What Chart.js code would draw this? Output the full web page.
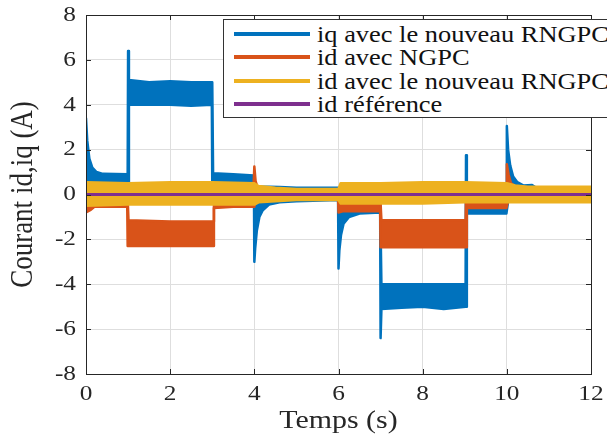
<!DOCTYPE html>
<html>
<head>
<meta charset="utf-8">
<script src="https://cdn.jsdelivr.net/npm/chart.js@4/dist/chart.umd.min.js"></script>
<style>
  html, body { margin: 0; padding: 0; background: #fff; overflow: hidden; }
  #wrap { position: relative; width: 607px; height: 437px; overflow: hidden; }
  #legend {
    position: absolute; left: 223px; top: 19px; width: 420px; height: 99px;
    background: #fff; border: 1px solid #333; box-sizing: border-box;
    font-family: "Liberation Serif", "Times New Roman", serif; font-size: 24px; color: #111;
  }
  #legend .row { position: absolute; left: 0; height: 24px; white-space: nowrap; }
  #legend .swatch { position: absolute; left: 10px; top: 10px; width: 76px; height: 4px; }
  #legend .label { position: absolute; left: 93px; top: 0; line-height: 24px; transform: scaleX(1.1); transform-origin: 0 50%; }
</style>
</head>
<body>
<div id="wrap">
  <canvas id="chart" width="607" height="437"></canvas>
  <div id="legend"></div>
</div>
<script>
// tick labels
const xTicks = [0, 2, 4, 6, 8, 10, 12];
const yTicks = [-8, -6, -4, -2, 0, 2, 4, 6, 8];

// iq avec le nouveau RNGPC (blue) - upper / lower envelope of the noisy band
const iqTime = [0, 0.03, 0.08, 0.15, 0.25, 0.4, 0.99, 1.0, 1.02, 1.5, 2.0, 2.5, 2.99, 3.0, 3.02, 3.5, 3.99,
  4.0, 4.02, 4.06, 4.12, 4.2, 4.35, 4.6, 5.0, 5.99, 6.0, 6.02, 6.06, 6.12, 6.25, 6.5, 6.99,
  7.0, 7.02, 7.5, 8.0, 8.5, 9.02, 9.03, 9.05, 9.5, 9.99, 10.0, 10.03, 10.08, 10.15, 10.25, 10.4, 10.6, 10.7, 11, 12];
const iqHigh = [3.4, 2.4, 1.6, 1.2, 1.0, 0.92, 0.9, 6.4, 5.1, 5.0, 5.05, 5.0, 5.0, 5.0, 0.95, 0.9, 0.85,
  0.85, 0.4, 0.35, 0.35, 0.35, 0.35, 0.33, 0.3, 0.3, 0.3, -0.2, -0.2, -0.2, -0.2, -0.2, -0.2,
  -0.2, -4.0, -4.0, -4.0, -4.0, -4.0, 1.75, -0.5, -0.5, -0.5, 3.05, 2.0, 1.3, 0.8, 0.55, 0.4, 0.42, 0.3, 0.28, 0.25];
const iqLow = [-0.2, 0.3, 0.4, 0.5, 0.55, 0.55, 0.55, 0.55, 4.0, 4.0, 4.0, 3.95, 4.0, 0.55, 0.55, 0.55, 0.55,
  -3.0, -2.4, -1.6, -1.0, -0.7, -0.45, -0.35, -0.3, -0.25, -3.3, -2.5, -1.8, -1.3, -1.0, -0.85, -0.8,
  -6.4, -5.1, -5.05, -5.0, -5.1, -5.0, -5.0, -0.85, -0.85, -0.85, -0.85, -0.3, -0.2, -0.2, -0.2, -0.2, -0.2, -0.2, -0.2, -0.2];

// id avec NGPC (orange)
const ngpcTime = [0, 0.1, 0.2, 0.98, 0.99, 1.01, 2.0, 3.03, 3.04, 3.5, 3.98, 4.0, 4.03, 4.08, 5.0, 5.99,
  6.0, 6.1, 6.5, 6.99, 7.0, 7.02, 9.02, 9.03, 9.05, 9.99, 10.0, 10.04, 10.1, 10.25, 12];
const ngpcHigh = [0.3, 0.3, 0.3, 0.3, 0.3, -1.15, -1.2, -1.2, 0.3, 0.3, 0.3, 1.25, 0.6, 0.3, 0.2, 0.2,
  0.2, 0.0, 0.0, 0.0, 0.0, -1.15, -1.15, 0.0, 0.0, 0.0, 1.35, 0.9, 0.5, 0.3, 0.2];
const ngpcLow = [-0.8, -0.7, -0.55, -0.55, -2.3, -2.3, -2.3, -2.3, -0.6, -0.55, -0.55, -0.55, -0.3, -0.25, -0.2, -0.2,
  -0.8, -0.75, -0.75, -0.75, -2.35, -2.35, -2.35, -2.35, -0.6, -0.6, -0.6, -0.2, -0.2, -0.2, -0.2];

// id avec le nouveau RNGPC (yellow)
const idTime = [0, 1, 2, 3, 4, 4.1, 4.5, 5, 6, 6.05, 7, 8, 9, 10, 10.2, 10.5, 12];
const idHigh = [0.55, 0.5, 0.55, 0.55, 0.5, 0.38, 0.3, 0.25, 0.25, 0.5, 0.5, 0.55, 0.55, 0.5, 0.4, 0.35, 0.35];
const idLow = [-0.5, -0.45, -0.45, -0.45, -0.45, -0.35, -0.3, -0.25, -0.25, -0.4, -0.4, -0.4, -0.35, -0.35, -0.35, -0.35, -0.35];

// id référence (purple)
const refTime = [0, 12];
const refValue = [0, 0];

const seriesNames = ['iq avec le nouveau RNGPC', 'id avec NGPC', 'id avec le nouveau RNGPC', 'id référence'];
const seriesColors = ['#0072BD', '#D95319', '#EDB120', '#7E2F8E'];

function pts(t, v) {
  return t.map((x, i) => ({ x: x, y: v[i] }));
}

function band(t, hi, lo, color, order) {
  return [
    { data: pts(t, hi), borderColor: color, backgroundColor: color, borderWidth: 2.5, pointRadius: 0, fill: false, order: order, borderJoinStyle: 'round', borderCapStyle: 'round' },
    { data: pts(t, lo), borderColor: color, backgroundColor: color, borderWidth: 2.5, pointRadius: 0, fill: '-1', order: order, borderJoinStyle: 'round', borderCapStyle: 'round' }
  ];
}

const datasets = []
  .concat(band(iqTime, iqHigh, iqLow, seriesColors[0], 4))
  .concat(band(ngpcTime, ngpcHigh, ngpcLow, seriesColors[1], 3))
  .concat(band(idTime, idHigh, idLow, seriesColors[2], 2));
datasets.push({ data: pts(refTime, refValue), borderColor: seriesColors[3], borderWidth: 3, pointRadius: 0, fill: false, order: 1 });

// the original figure is a bit stretched sideways, so widen every text a little
const canvas = document.getElementById('chart');
const ctx = canvas.getContext('2d');
const textStretch = 1.15;
const plainFillText = ctx.fillText;
ctx.fillText = function (text, x, y) {
  const m = this.getTransform();
  const p = m.transformPoint(new DOMPoint(x, y));
  this.save();
  this.setTransform(new DOMMatrix().translateSelf(p.x, p.y).scaleSelf(textStretch, 1).translateSelf(-p.x, -p.y).multiplySelf(m));
  plainFillText.call(this, text, x, y);
  this.restore();
};

// MATLAB style box with inward ticks
const boxPlugin = {
  id: 'box',
  afterDraw(chart) {
    const { ctx, chartArea: a, scales } = chart;
    ctx.save();
    ctx.strokeStyle = '#262626';
    ctx.lineWidth = 1;
    ctx.beginPath();
    xTicks.forEach(v => {
      const px = Math.round(scales.x.getPixelForValue(v)) + 0.5;
      ctx.moveTo(px, a.bottom); ctx.lineTo(px, a.bottom - 5);
      ctx.moveTo(px, a.top); ctx.lineTo(px, a.top + 5);
    });
    yTicks.forEach(v => {
      const py = Math.round(scales.y.getPixelForValue(v)) + 0.5;
      ctx.moveTo(a.left, py); ctx.lineTo(a.left + 5, py);
      ctx.moveTo(a.right, py); ctx.lineTo(a.right - 5, py);
    });
    ctx.stroke();
    ctx.strokeRect(Math.round(a.left) + 0.5, Math.round(a.top) + 0.5, Math.round(a.right - a.left), Math.round(a.bottom - a.top));
    ctx.restore();
  }
};

const serif = '"Liberation Serif", "Times New Roman", serif';

new Chart(canvas, {
  type: 'line',
  data: { datasets: datasets },
  options: {
    responsive: false,
    animation: false,
    layout: { padding: { top: 15, right: 16, left: 0, bottom: 0 } },
    plugins: { legend: { display: false }, tooltip: { enabled: false } },
    scales: {
      x: {
        type: 'linear', min: 0, max: 12,
        afterFit: s => { s.height = 63; s.paddingLeft = 0; s.paddingRight = 0; },
        afterBuildTicks: s => { s.ticks = xTicks.map(v => ({ value: v })); },
        ticks: { color: '#262626', font: { family: serif, size: 22 }, padding: 7, maxRotation: 0 },
        grid: { color: '#dedede', lineWidth: 1, drawTicks: false },
        border: { display: false },
        title: { display: true, text: 'Temps (s)', color: '#262626', font: { family: serif, size: 26, lineHeight: 1 }, padding: { bottom: 3 } }
      },
      y: {
        type: 'linear', min: -8, max: 8,
        afterFit: s => { s.width = 86; s.paddingTop = 0; s.paddingBottom = 0; },
        afterBuildTicks: s => { s.ticks = yTicks.map(v => ({ value: v })); },
        ticks: { color: '#262626', font: { family: serif, size: 22 }, padding: 10 },
        grid: { color: '#dedede', lineWidth: 1, drawTicks: false },
        border: { display: false },
        title: { display: true, text: 'Courant id,iq (A)', color: '#262626', font: { family: serif, size: 27, lineHeight: 1 }, padding: { top: 10 } }
      }
    }
  },
  plugins: [boxPlugin]
});

// legend box (clipped by the window on the right, like the original)
const legend = document.getElementById('legend');
const rowTops = [2, 25, 49, 72];
seriesNames.forEach((name, i) => {
  const row = document.createElement('div');
  row.className = 'row';
  row.style.top = rowTops[i] + 'px';
  row.innerHTML = '<div class="swatch" style="background:' + seriesColors[i] + '"></div><div class="label">' + name + '</div>';
  legend.appendChild(row);
});
</script>
</body>
</html>
